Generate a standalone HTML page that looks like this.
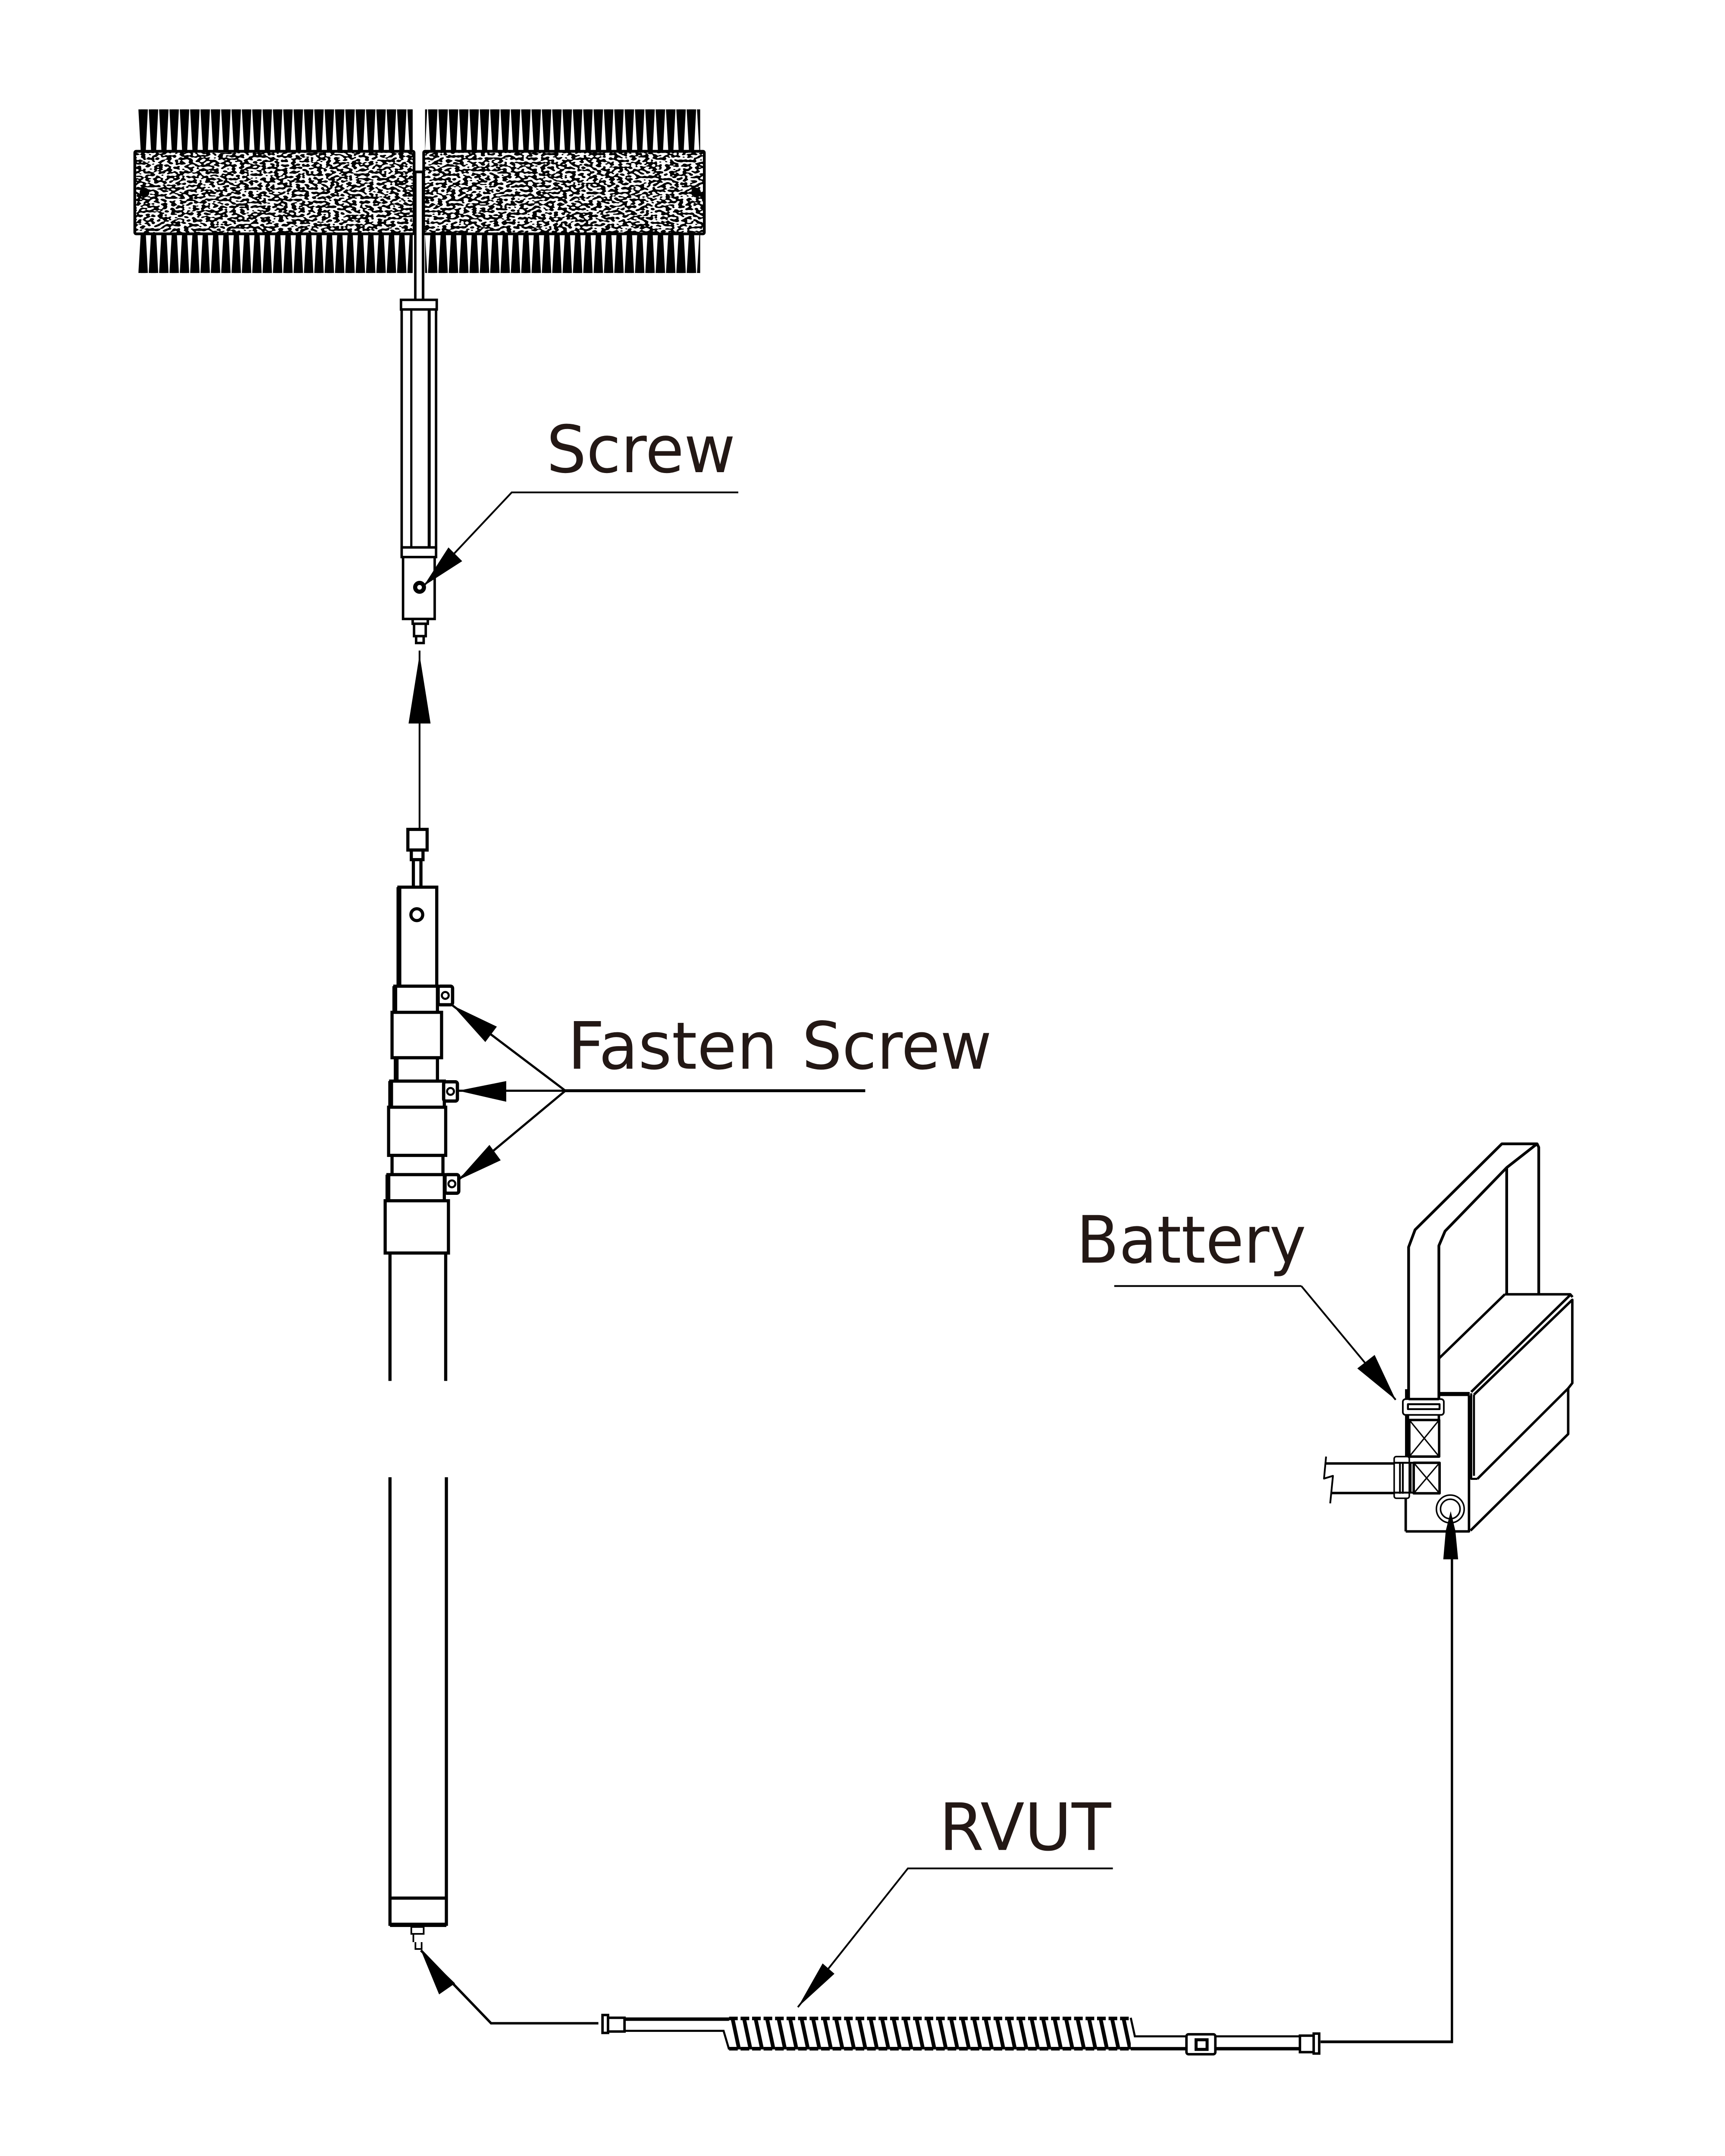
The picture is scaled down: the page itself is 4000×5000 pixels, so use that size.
<!DOCTYPE html>
<html><head><meta charset="utf-8"><style>html,body{margin:0;padding:0;background:#fff}svg{display:block}text{font-family:"DejaVu Sans","Liberation Sans",sans-serif;fill:#231815}</style></head><body>
<svg xmlns="http://www.w3.org/2000/svg" width="4000" height="5000" viewBox="0 0 1254 1567.5">
<defs>
<pattern id="bt" patternUnits="userSpaceOnUse" width="7.52" height="30" patternTransform="translate(100.600,79.500)"><polygon points="0,0 6.900,0 5.400,30 1.700,30" fill="#000"/></pattern>
<pattern id="bb" patternUnits="userSpaceOnUse" width="7.52" height="28.500" patternTransform="translate(100.600,170)"><polygon points="1.700,0 5.400,0 6.900,28.500 0,28.500" fill="#000"/></pattern>
<pattern id="coil" patternUnits="userSpaceOnUse" width="8.36" height="23" patternTransform="translate(530,1467) skewX(12)"><rect x="1" y="0" width="2.800" height="23" fill="#000"/></pattern>
<filter id="noise" x="0" y="0" width="1" height="1" color-interpolation-filters="sRGB"><feTurbulence type="fractalNoise" baseFrequency="0.32 0.6" numOctaves="1" seed="7"/><feColorMatrix type="matrix" values="0 0 0 0 0 0 0 0 0 0 0 0 0 0 0 0 0 0 30 -14.500"/></filter>
</defs>
<rect width="1254" height="1567.500" fill="#fff"/>

<!-- brush -->
<rect x="100.600" y="79.500" width="199.400" height="30" fill="url(#bt)"/>
<rect x="309" y="79.500" width="200" height="30" fill="url(#bt)"/>
<rect x="100.600" y="170" width="199.400" height="28.500" fill="url(#bb)"/>
<rect x="309" y="170" width="200" height="28.500" fill="url(#bb)"/>
<rect x="98" y="110" width="203" height="60" filter="url(#noise)"/>
<rect x="308" y="110" width="204" height="60" filter="url(#noise)"/>
<g fill="none" stroke="#000" stroke-width="2">
<rect x="98" y="110" width="203" height="60" rx="1"/>
<rect x="308" y="110" width="204" height="60" rx="1"/>
<path d="M301 125H308M302 125V218M307.500 125V218"/>
</g>
<rect x="302.800" y="126" width="3.800" height="92" fill="#fff"/>
<circle cx="105" cy="140" r="3.500" fill="#000"/><circle cx="506" cy="140" r="3.500" fill="#000"/>

<!-- upper tube -->
<g fill="#fff" stroke="#000" stroke-width="1.800">
<rect x="291.500" y="218" width="26" height="7"/>
<rect x="292" y="225" width="25" height="173"/>
<path d="M299 225V398" stroke-width="1.600"/>
<path d="M312 225V398" stroke-width="2.200"/>
<rect x="292" y="398" width="25" height="7"/>
<rect x="293" y="405" width="23" height="45"/>
<rect x="300" y="450" width="11" height="3.500"/>
<rect x="301" y="453.500" width="8.500" height="9"/>
<rect x="302.500" y="462.500" width="5.500" height="5"/>
</g>
<circle cx="305" cy="427" r="3.200" fill="#fff" stroke="#000" stroke-width="3"/>

<!-- screw leader -->
<path d="M536.700 358H372L308 426" fill="none" stroke="#000" stroke-width="1.300"/>
<polygon points="308,426 336,408 326,398" fill="#000"/>
<text x="397.300" y="343.300" font-size="47.500" textLength="137.300" lengthAdjust="spacingAndGlyphs">Screw</text>

<!-- long arrow -->
<path d="M305 473V603" stroke="#000" stroke-width="1.300"/>
<polygon points="305,476 297,526 313,526" fill="#000"/>

<!-- pole -->
<g fill="#fff" stroke="#000" stroke-width="2.300">
<rect x="296.500" y="603" width="14" height="15"/>
<rect x="299" y="618" width="8.500" height="7"/>
<path d="M300.500 625V645M306 625V645"/>
<rect x="290" y="645" width="27.500" height="72"/>
<circle cx="303" cy="665" r="4.300"/>
<rect x="288" y="769" width="30" height="17"/>
<rect x="285" y="840" width="37" height="14"/>
<rect x="287" y="717" width="31" height="19"/>
<rect x="285" y="736" width="36" height="33"/>
<rect x="284" y="786" width="39" height="19"/>
<rect x="282.500" y="805" width="41.500" height="35"/>
<rect x="282" y="854" width="41" height="19"/>
<rect x="280" y="873" width="46" height="38"/>
<path d="M283.500 911V1004M324 911V1004"/>
<path d="M283.500 1074V1399H324.500V1074"/>
<path d="M283.500 1380H324.500"/>
<path d="M283.500 1399.500H324.500" stroke-width="3"/>
</g>
<path d="M290 717V645M287 717V736M288 769V786M284 786V805M282 854V873" stroke="#000" stroke-width="3.500" fill="none"/>
<g fill="#fff" stroke="#000" stroke-width="2.400">
<rect x="318.500" y="717" width="10.500" height="13.500" rx="1.500"/>
<rect x="322.500" y="786.500" width="10" height="14" rx="1.500"/>
<rect x="323.500" y="854" width="10" height="13.500" rx="1.500"/>
</g>
<g fill="none" stroke="#000" stroke-width="1.500">
<circle cx="323.700" cy="723.700" r="2.500"/><circle cx="327.500" cy="793.500" r="2.500"/><circle cx="328.500" cy="860.700" r="2.500"/>
</g>
<g fill="#fff" stroke="#000" stroke-width="1.200">
<rect x="299" y="1401" width="9" height="5"/>
<path d="M300.500 1406V1412M302 1412V1417H306.500V1412" fill="none"/>
</g>

<!-- fasten leaders -->
<path d="M411 793L329 731M411 793H333M411 793L333 858" fill="none" stroke="#000" stroke-width="1.600"/>
<path d="M629 793H411" stroke="#000" stroke-width="2.100"/>
<polygon points="329,731 352.800,757.600 361.200,746.400" fill="#000"/>
<polygon points="333,793 368,786 368,801" fill="#000"/>
<polygon points="333,858 364,843.600 355.800,832.400" fill="#000"/>
<text x="412.600" y="777" font-size="47.500" textLength="152.700" lengthAdjust="spacingAndGlyphs">Fasten</text>
<text x="583" y="777" font-size="47.500" textLength="138" lengthAdjust="spacingAndGlyphs">Screw</text>

<!-- battery -->
<g fill="none" stroke="#000" stroke-width="1.800" stroke-linejoin="round">
<path d="M1024 1017V906.700L1028.700 894.100L1091.800 831.600H1117.400L1118.600 834.100V940.400" stroke-width="2"/>
<path d="M1046 1017V905.700L1050.500 895.100L1095.300 848.900V940.400M1095.300 848.900L1117.400 831.600" stroke-width="2"/>
<path d="M1094 941H1141.500L1143.200 943M1094 941L1046 987.700"/>
<path d="M1069.500 1012L1141.500 941.500M1071.500 1014L1143 945V1005.600L1140 1009.400"/>
<path d="M1074 1075.200L1140 1009.400V1042.600L1069 1112.800"/>
<path d="M1021.900 1113.400H1067.900V1014.600M1021.900 1089V1113.400"/>
<path d="M1046.500 1013.500H1068.400" stroke-width="3"/>
<path d="M1069.500 1013V1075.200H1074M1071.500 1014V1073" stroke-width="1.500"/>
<path d="M1022.900 1028.700V1059" stroke-width="3"/>
<path d="M1022.900 1010V1017" stroke-width="3"/>
<rect x="1019.800" y="1017.200" width="29.800" height="11.500" rx="2" fill="#fff" stroke-width="1.200"/>
<rect x="1023.500" y="1020.900" width="23" height="3.600" stroke-width="1.400"/>
<path d="M1024 1017.200H1046" stroke-width="1.800"/>
<path d="M1046 1028.700V1032.400"/>
<rect x="1024.500" y="1032.400" width="21.700" height="26.600"/>
<path d="M1024.500 1032.400L1046.200 1059M1046.200 1032.400L1024.500 1059" stroke-width="1"/>
<rect x="1027.700" y="1063.500" width="18.800" height="22.200"/>
<path d="M1027.700 1063.500L1046.500 1085.700M1046.500 1063.500L1027.700 1085.700" stroke-width="1"/>
<rect x="1013.500" y="1059" width="11" height="30.300" rx="1.500" stroke-width="1.100"/>
<path d="M1017.700 1063V1086M1019.800 1063V1086M1025.500 1063.500V1085.500" stroke-width="1.300"/>
<path d="M1013.500 1063.500H1027.700M1013.500 1085.200H1027.700" stroke-width="1.400"/>
<path d="M964 1064H1013.500M967.800 1085.500H1013.500"/>
<path d="M964 1059L962.500 1075L969 1073L967 1093" stroke-width="1.300"/>
<circle cx="1054.300" cy="1097.100" r="10.100" stroke-width="1.100"/>
<circle cx="1054.300" cy="1097.100" r="7.100" stroke-width="1.100"/>
</g>
<path d="M946 935H810M946 935L1014.600 1017.700" fill="none" stroke="#000" stroke-width="1.300"/>
<polygon points="1014.600,1017.700 999.300,985.100 986.700,994.900" fill="#000"/>
<text x="782.500" y="918" font-size="47.500" textLength="167" lengthAdjust="spacingAndGlyphs">Battery</text>

<!-- battery cable -->
<path d="M1055.500 1133V1485" stroke="#000" stroke-width="1.700"/>
<path d="M960 1484.500H1056.300" stroke="#000" stroke-width="2"/>
<polygon points="1054.600,1098.700 1051,1113 1049.200,1133.700 1060,1133.700 1058,1113" fill="#000"/>

<!-- RVUT leader -->
<path d="M809 1358.400H660L580 1459.300" fill="none" stroke="#000" stroke-width="1.300"/>
<polygon points="580,1459.300 606.600,1435 598,1427.500" fill="#000"/>
<text x="682.700" y="1345" font-size="47.500" textLength="125" lengthAdjust="spacingAndGlyphs">RVUT</text>

<!-- pin leader -->
<path d="M306 1418L357 1471H435" fill="none" stroke="#000" stroke-width="1.800"/>
<polygon points="306,1418 330.800,1442 319.200,1450" fill="#000"/>

<!-- coil cable -->
<g fill="#fff" stroke="#000" stroke-width="1.800">
<rect x="438" y="1465" width="4" height="13"/>
<rect x="442" y="1467" width="12" height="10"/>
</g>
<path d="M454 1468H530" stroke="#000" stroke-width="2.500"/>
<path d="M454 1476.500H526L530 1490" fill="none" stroke="#000" stroke-width="1.500"/>
<rect x="530" y="1467" width="292" height="23" fill="url(#coil)"/>
<path d="M530 1467.500H822M530 1489.500H822" stroke="#000" stroke-width="2.600" stroke-dasharray="6.300 2.060" fill="none"/>
<path d="M822 1467L825 1480.500H862" fill="none" stroke="#000" stroke-width="1.500"/>
<path d="M822 1489.500H945" stroke="#000" stroke-width="2.500"/>
<path d="M884 1480.500H945" stroke="#000" stroke-width="1.500"/>
<g fill="#fff" stroke="#000" stroke-width="1.800">
<rect x="862.500" y="1479" width="21" height="14.500" rx="1.500"/>
<rect x="869.500" y="1483" width="8" height="7" stroke-width="2.200"/>
<rect x="945" y="1480" width="10" height="12"/>
<rect x="955" y="1478.500" width="4" height="14.500"/>
</g>
</svg>
</body></html>
